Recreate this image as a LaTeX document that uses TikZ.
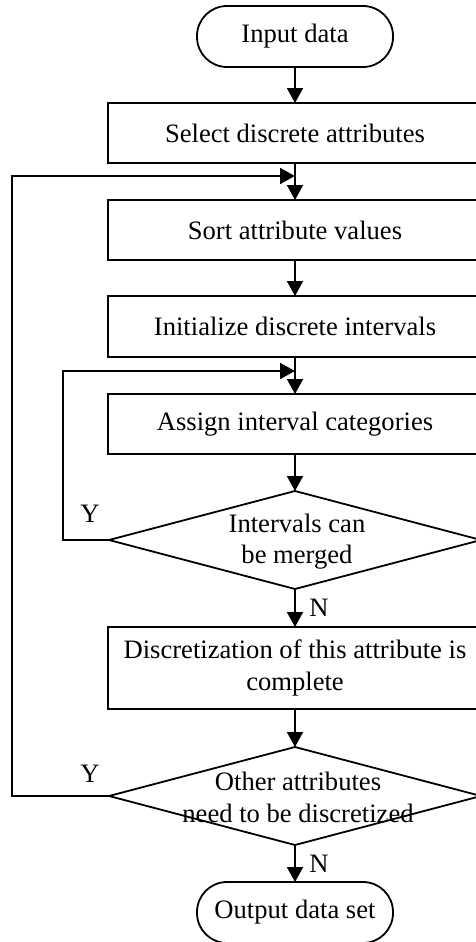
\documentclass[tikz,border=0pt]{standalone}
\usepackage{fontspec}
\setmainfont{Liberation Serif}
\usetikzlibrary{arrows.meta,shapes.geometric}
\begin{document}
\begin{tikzpicture}[x=1pt,y=-1pt,
  every node/.style={font=\fontsize{26.6}{31.5}\selectfont, inner sep=0pt, outer sep=0pt},
  line/.style={line width=1.8pt, draw=black},
  flow/.style={line, -{Triangle[length=15pt,width=16pt]}},
  terminal/.style={line, rectangle, rounded corners=30pt, minimum width=196pt, minimum height=61pt},
  procbox/.style={line, rectangle, minimum width=374pt, align=center},
  decision/.style={line, diamond, minimum width=372pt, minimum height=98pt},
  tag/.style={font=\fontsize{26.6}{31.5}\selectfont}]

  % page area
  \fill[white] (0,0) rectangle (475,942);
  \useasboundingbox (0,0) rectangle (475,942);

  % main column
  \node[terminal] (start) at (295,36.5) {Input data};
  \node[procbox, minimum height=60pt] (sel) at (295,133) {Select discrete attributes};
  \node[procbox, minimum height=60pt] (sort) at (295,230) {Sort attribute values};
  \node[procbox, minimum height=61pt] (init) at (295,326.5) {Initialize discrete intervals};
  \node[procbox, minimum height=60pt] (assign) at (295,424) {Assign interval categories};
  \node[decision] (d1) at (295,540) {};
  \node[align=center] (d1text) at (297,541.5) {Intervals can\\be merged};
  \node[procbox, minimum height=82pt] (done) at (295,668) {Discretization of this attribute is\\complete};
  \node[decision] (d2) at (295,796) {};
  \node[align=center] (d2text) at (298,797.5) {Other attributes\\need to be discretized};
  \node[terminal] (stop) at (295,912.5) {Output data set};

  % junctions where the loops re-enter
  \coordinate (j1) at (295,176);
  \coordinate (j2) at (295,371);

  % forward flow
  \draw[flow] (start) -- (sel);
  \draw[flow] (sel) -- (sort);
  \draw[flow] (sort) -- (init);
  \draw[flow] (init) -- (assign);
  \draw[flow] (assign) -- (d1);
  \draw[flow] (d1) -- (done);
  \draw[flow] (done) -- (d2);
  \draw[flow] (d2) -- (stop);

  % loops back
  \draw[flow] (d1.west) -- ++(-46,0) |- (j2);
  \draw[flow] (d2.west) -- ++(-97,0) |- (j1);

  % branch labels
  \node[tag] (y1) at (90,514) {Y};
  \node[tag] (n1) at (319,608) {N};
  \node[tag] (y2) at (90,774) {Y};
  \node[tag] (n2) at (319,864) {N};
\end{tikzpicture}
\end{document}
